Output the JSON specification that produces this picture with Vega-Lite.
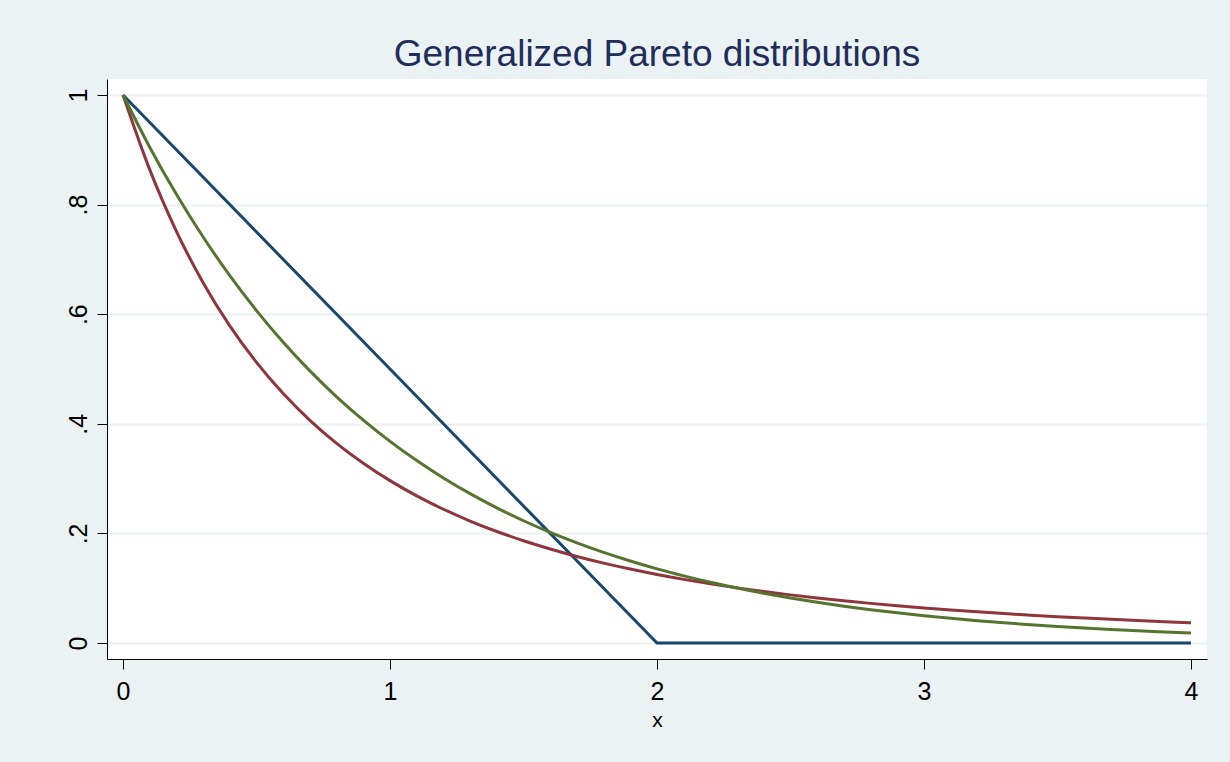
{
  "$schema": "https://vega.github.io/schema/vega-lite/v6.json",
  "autosize": {"type": "none"},
  "padding": {"left": 107, "top": 79, "right": 23, "bottom": 103},
  "width": 1100,
  "height": 580,
  "background": "#eaf2f3",
  "config": {
    "font": "Liberation Sans",
    "view": {"fill": "white", "stroke": null}
  },
  "title": {
    "text": "Generalized Pareto distributions",
    "fontSize": 37,
    "fontWeight": "normal",
    "color": "#1e2d5a",
    "anchor": "middle",
    "frame": "group",
    "baseline": "alphabetic",
    "offset": -24
  },
  "data": {
    "values": [
      {"x": 0, "y": 1, "s": "navy"},
      {"x": 1, "y": 0.5, "s": "navy"},
      {"x": 2, "y": 0, "s": "navy"},
      {"x": 3, "y": 0, "s": "navy"},
      {"x": 4, "y": 0, "s": "navy"},
      {"x": 0, "y": 1, "s": "maroon"},
      {"x": 0.1, "y": 0.8638, "s": "maroon"},
      {"x": 0.2, "y": 0.7513, "s": "maroon"},
      {"x": 0.3, "y": 0.6575, "s": "maroon"},
      {"x": 0.4, "y": 0.5787, "s": "maroon"},
      {"x": 0.5, "y": 0.512, "s": "maroon"},
      {"x": 0.6, "y": 0.4552, "s": "maroon"},
      {"x": 0.7, "y": 0.4064, "s": "maroon"},
      {"x": 0.8, "y": 0.3644, "s": "maroon"},
      {"x": 0.9, "y": 0.328, "s": "maroon"},
      {"x": 1.0, "y": 0.2963, "s": "maroon"},
      {"x": 1.1, "y": 0.2685, "s": "maroon"},
      {"x": 1.2, "y": 0.2441, "s": "maroon"},
      {"x": 1.3, "y": 0.2226, "s": "maroon"},
      {"x": 1.4, "y": 0.2035, "s": "maroon"},
      {"x": 1.5, "y": 0.1866, "s": "maroon"},
      {"x": 1.6, "y": 0.1715, "s": "maroon"},
      {"x": 1.7, "y": 0.1579, "s": "maroon"},
      {"x": 1.8, "y": 0.1458, "s": "maroon"},
      {"x": 1.9, "y": 0.1349, "s": "maroon"},
      {"x": 2.0, "y": 0.125, "s": "maroon"},
      {"x": 2.1, "y": 0.1161, "s": "maroon"},
      {"x": 2.2, "y": 0.108, "s": "maroon"},
      {"x": 2.3, "y": 0.1006, "s": "maroon"},
      {"x": 2.4, "y": 0.0939, "s": "maroon"},
      {"x": 2.5, "y": 0.0878, "s": "maroon"},
      {"x": 2.6, "y": 0.0822, "s": "maroon"},
      {"x": 2.7, "y": 0.0771, "s": "maroon"},
      {"x": 2.8, "y": 0.0723, "s": "maroon"},
      {"x": 2.9, "y": 0.068, "s": "maroon"},
      {"x": 3.0, "y": 0.064, "s": "maroon"},
      {"x": 3.1, "y": 0.0603, "s": "maroon"},
      {"x": 3.2, "y": 0.0569, "s": "maroon"},
      {"x": 3.3, "y": 0.0537, "s": "maroon"},
      {"x": 3.4, "y": 0.0508, "s": "maroon"},
      {"x": 3.5, "y": 0.0481, "s": "maroon"},
      {"x": 3.6, "y": 0.0456, "s": "maroon"},
      {"x": 3.7, "y": 0.0432, "s": "maroon"},
      {"x": 3.8, "y": 0.041, "s": "maroon"},
      {"x": 3.9, "y": 0.039, "s": "maroon"},
      {"x": 4.0, "y": 0.037, "s": "maroon"},
      {"x": 0, "y": 1, "s": "green"},
      {"x": 0.1, "y": 0.9048, "s": "green"},
      {"x": 0.2, "y": 0.8187, "s": "green"},
      {"x": 0.3, "y": 0.7408, "s": "green"},
      {"x": 0.4, "y": 0.6703, "s": "green"},
      {"x": 0.5, "y": 0.6065, "s": "green"},
      {"x": 0.6, "y": 0.5488, "s": "green"},
      {"x": 0.7, "y": 0.4966, "s": "green"},
      {"x": 0.8, "y": 0.4493, "s": "green"},
      {"x": 0.9, "y": 0.4066, "s": "green"},
      {"x": 1.0, "y": 0.3679, "s": "green"},
      {"x": 1.1, "y": 0.3329, "s": "green"},
      {"x": 1.2, "y": 0.3012, "s": "green"},
      {"x": 1.3, "y": 0.2725, "s": "green"},
      {"x": 1.4, "y": 0.2466, "s": "green"},
      {"x": 1.5, "y": 0.2231, "s": "green"},
      {"x": 1.6, "y": 0.2019, "s": "green"},
      {"x": 1.7, "y": 0.1827, "s": "green"},
      {"x": 1.8, "y": 0.1653, "s": "green"},
      {"x": 1.9, "y": 0.1496, "s": "green"},
      {"x": 2.0, "y": 0.1353, "s": "green"},
      {"x": 2.1, "y": 0.1225, "s": "green"},
      {"x": 2.2, "y": 0.1108, "s": "green"},
      {"x": 2.3, "y": 0.1003, "s": "green"},
      {"x": 2.4, "y": 0.0907, "s": "green"},
      {"x": 2.5, "y": 0.0821, "s": "green"},
      {"x": 2.6, "y": 0.0743, "s": "green"},
      {"x": 2.7, "y": 0.0672, "s": "green"},
      {"x": 2.8, "y": 0.0608, "s": "green"},
      {"x": 2.9, "y": 0.055, "s": "green"},
      {"x": 3.0, "y": 0.0498, "s": "green"},
      {"x": 3.1, "y": 0.045, "s": "green"},
      {"x": 3.2, "y": 0.0408, "s": "green"},
      {"x": 3.3, "y": 0.0369, "s": "green"},
      {"x": 3.4, "y": 0.0334, "s": "green"},
      {"x": 3.5, "y": 0.0302, "s": "green"},
      {"x": 3.6, "y": 0.0273, "s": "green"},
      {"x": 3.7, "y": 0.0247, "s": "green"},
      {"x": 3.8, "y": 0.0224, "s": "green"},
      {"x": 3.9, "y": 0.0202, "s": "green"},
      {"x": 4.0, "y": 0.0183, "s": "green"}
    ]
  },
  "encoding": {
    "x": {
      "field": "x",
      "type": "quantitative",
      "scale": {"domain": [-0.06, 4.06], "nice": false, "zero": false},
      "axis": {
        "title": "x",
        "values": [0, 1, 2, 3, 4],
        "format": "d",
        "grid": false,
        "domainColor": "#000000",
        "domainWidth": 1,
        "tickColor": "#000000",
        "tickWidth": 1,
        "tickSize": 10,
        "labelFontSize": 25,
        "labelColor": "#000000",
        "labelBaseline": "alphabetic",
        "labelPadding": 30,
        "labelFlush": false,
        "titleFontSize": 21,
        "titleFontWeight": "normal",
        "titleColor": "#000000",
        "titleBaseline": "alphabetic",
        "titleY": 67
      }
    },
    "y": {
      "field": "y",
      "type": "quantitative",
      "scale": {"domain": [-0.0292, 1.0292], "nice": false, "zero": false},
      "axis": {
        "title": null,
        "values": [0, 0.2, 0.4, 0.6, 0.8, 1],
        "labelExpr": "replace(format(datum.value, '.1~f'), '0.', '.')",
        "grid": true,
        "gridColor": "#eaf2f3",
        "gridWidth": 2,
        "domainColor": "#000000",
        "domainWidth": 1,
        "tickColor": "#000000",
        "tickWidth": 1,
        "tickSize": 10,
        "labelFontSize": 25,
        "labelColor": "#000000",
        "labelAngle": -90,
        "labelAlign": "center",
        "labelBaseline": "alphabetic",
        "labelPadding": 11,
        "labelFlush": false
      }
    },
    "color": {
      "field": "s",
      "type": "nominal",
      "scale": {"domain": ["navy", "maroon", "green"], "range": ["#1a476f", "#90353b", "#55752f"]},
      "legend": null
    }
  },
  "layer": [
    {
      "transform": [{"filter": "datum.s == 'navy'"}],
      "mark": {"type": "line", "strokeWidth": 3, "interpolate": "linear"}
    },
    {
      "transform": [{"filter": "datum.s == 'maroon'"}],
      "mark": {"type": "line", "strokeWidth": 3, "interpolate": "monotone"}
    },
    {
      "transform": [{"filter": "datum.s == 'green'"}],
      "mark": {"type": "line", "strokeWidth": 3, "interpolate": "monotone"}
    }
  ]
}
